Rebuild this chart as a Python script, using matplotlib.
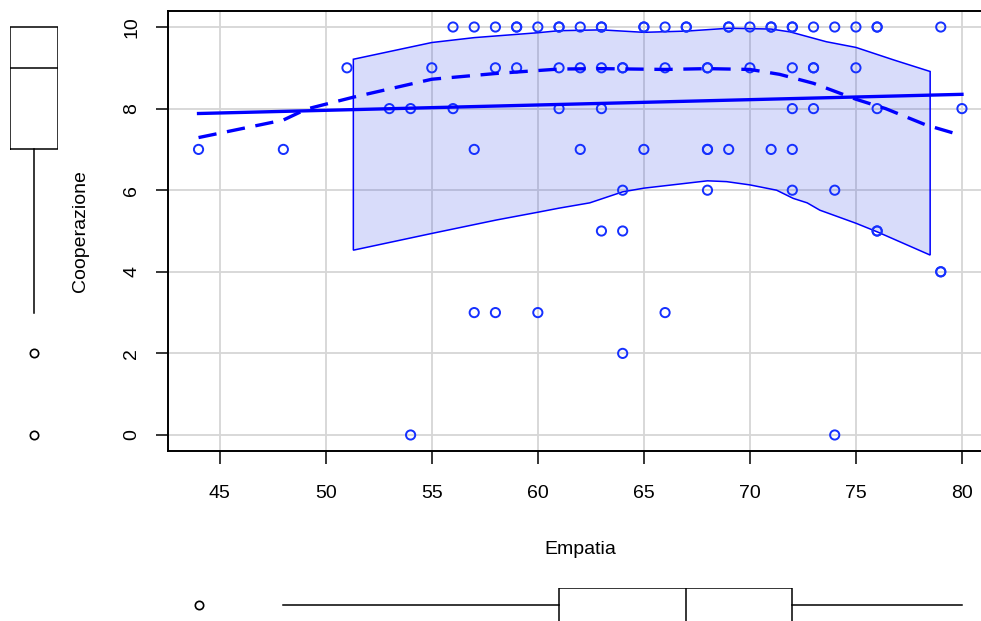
import numpy as np
import matplotlib
matplotlib.use("Agg")
import matplotlib.pyplot as plt

plt.rcParams['font.family'] = ['Liberation Sans', 'DejaVu Sans']

# ---- data ----
empatia = [56, 57, 58, 59, 59, 60, 61, 61, 62, 63, 63, 65, 65, 66, 67, 67, 69, 69, 70, 71, 71, 72, 72, 73, 74, 75, 76, 76, 79,
           51, 55, 58, 59, 61, 62, 63, 64, 64, 66, 68, 68, 70, 72, 73, 73, 75,
           53, 54, 56, 61, 63, 72, 73, 76, 80,
           44, 48, 57, 62, 65, 68, 68, 69, 71, 72,
           64, 68, 72, 74,
           63, 64, 76, 76,
           79, 79,
           57, 58, 60, 66,
           64,
           54, 74]
cooperazione = [10] * 29 + [9] * 17 + [8] * 9 + [7] * 10 + [6] * 4 + [5] * 4 + [4] * 2 + [3] * 4 + [2] * 1 + [0] * 2

# linear fit line
fit_x = [44, 80]
fit_y = [7.88, 8.35]

# smoother (dashed)
smooth_x = [44, 48, 49.1, 51.3, 55, 58, 61, 63, 66, 68, 70, 71.4, 73, 75, 76.4, 78.3, 80]
smooth_y = [7.29, 7.72, 7.99, 8.28, 8.72, 8.86, 8.97, 8.98, 8.96, 8.98, 8.96, 8.84, 8.62, 8.23, 8.0, 7.6, 7.34]

# spread band
band_up_x = [51.3, 55, 57, 60, 61, 63, 65, 67, 69, 71, 71.9, 73.6, 75, 76.8, 78.5]
band_up_y = [9.21, 9.62, 9.74, 9.86, 9.91, 9.93, 9.87, 9.90, 9.97, 9.95, 9.88, 9.64, 9.50, 9.19, 8.91]
band_lo_x = [51.3, 55, 58.05, 60, 61, 62.45, 64, 65, 67, 68, 68.9, 70, 71.26, 72.04, 72.7, 73.3, 75, 76, 78.5]
band_lo_y = [4.53, 4.94, 5.27, 5.46, 5.56, 5.69, 5.96, 6.05, 6.17, 6.23, 6.21, 6.13, 6.0, 5.8, 5.69, 5.51, 5.19, 4.98, 4.41]

# marginal boxplot statistics
coop_box = dict(whislo=3, q1=7, med=9, q3=10, whishi=10, fliers=[2, 0])
emp_box = dict(whislo=48, q1=61, med=67, q3=72, whishi=80, fliers=[44])

x_ticks = [45, 50, 55, 60, 65, 70, 75, 80]
y_ticks = [0, 2, 4, 6, 8, 10]

BLUE = '#0000FF'
W, H = 981, 621
fig = plt.figure(figsize=(W / 100, H / 100), dpi=100)


def px_axes(l, t, r, b):
    return fig.add_axes([l / W, 1 - b / H, (r - l) / W, (b - t) / H])


xlim = (42.56, 81.44)
ylim = (-0.4, 10.4)

ax = px_axes(168, 10.7, 992.5, 451.3)
ax.set_xlim(*xlim)
ax.set_ylim(*ylim)
ax.set_xticks(x_ticks)
ax.set_yticks(y_ticks)
ax.grid(True, color='#D6D6D6', linewidth=1.3, zorder=0)
ax.set_axisbelow(True)
for s in ax.spines.values():
    s.set_linewidth(1.4)
    s.set_color('black')
ax.tick_params(axis='both', direction='out', length=9, width=1.1, labelsize=14)
ax.tick_params(axis='x', pad=15)
ax.tick_params(axis='y', pad=11)
for lab in ax.get_yticklabels():
    lab.set_rotation(90)
    lab.set_va('center')

# band
poly_x = band_up_x + band_lo_x[::-1]
poly_y = band_up_y + band_lo_y[::-1]
ax.fill(poly_x, poly_y, facecolor=(60 / 255, 80 / 255, 230 / 255, 0.2), edgecolor=BLUE, linewidth=1.1, zorder=2)

# points
ax.scatter(empatia, cooperazione, s=44, facecolors='none', edgecolors='#1530FF', linewidths=1.4, zorder=4)

# linear fit
ax.plot(fit_x, fit_y, color=BLUE, linewidth=2.4, zorder=5)

# smoother
ax.plot(smooth_x, smooth_y, color=BLUE, linewidth=2.4, linestyle=(0, (5.5, 3.2)), zorder=5)

ax.set_xlabel('Empatia', fontsize=14, labelpad=28)
ax.set_ylabel('Cooperazione', fontsize=14, labelpad=25)

bprops = dict(boxprops=dict(color='black', linewidth=1.1),
              whiskerprops=dict(color='black', linewidth=1.1, linestyle='-'),
              medianprops=dict(color='black', linewidth=1.1),
              flierprops=dict(marker='o', markersize=6, markerfacecolor='none',
                              markeredgecolor='black', markeredgewidth=1.2))

# left boxplot (y)
axl = px_axes(10, 10.7, 58, 451.3)
axl.set_ylim(*ylim)
axl.set_xlim(-0.5, 0.5)
axl.bxp([coop_box], positions=[0], widths=1.0, showcaps=False, orientation='vertical', **bprops)
axl.axis('off')

# bottom boxplot (x)
axb = px_axes(168, 588, 992.5, 622)
axb.set_xlim(*xlim)
axb.set_ylim(-0.5, 0.5)
axb.bxp([emp_box], positions=[0], widths=1.0, showcaps=False, orientation='horizontal', **bprops)
axb.axis('off')

fig.savefig('out.png', dpi=100)
